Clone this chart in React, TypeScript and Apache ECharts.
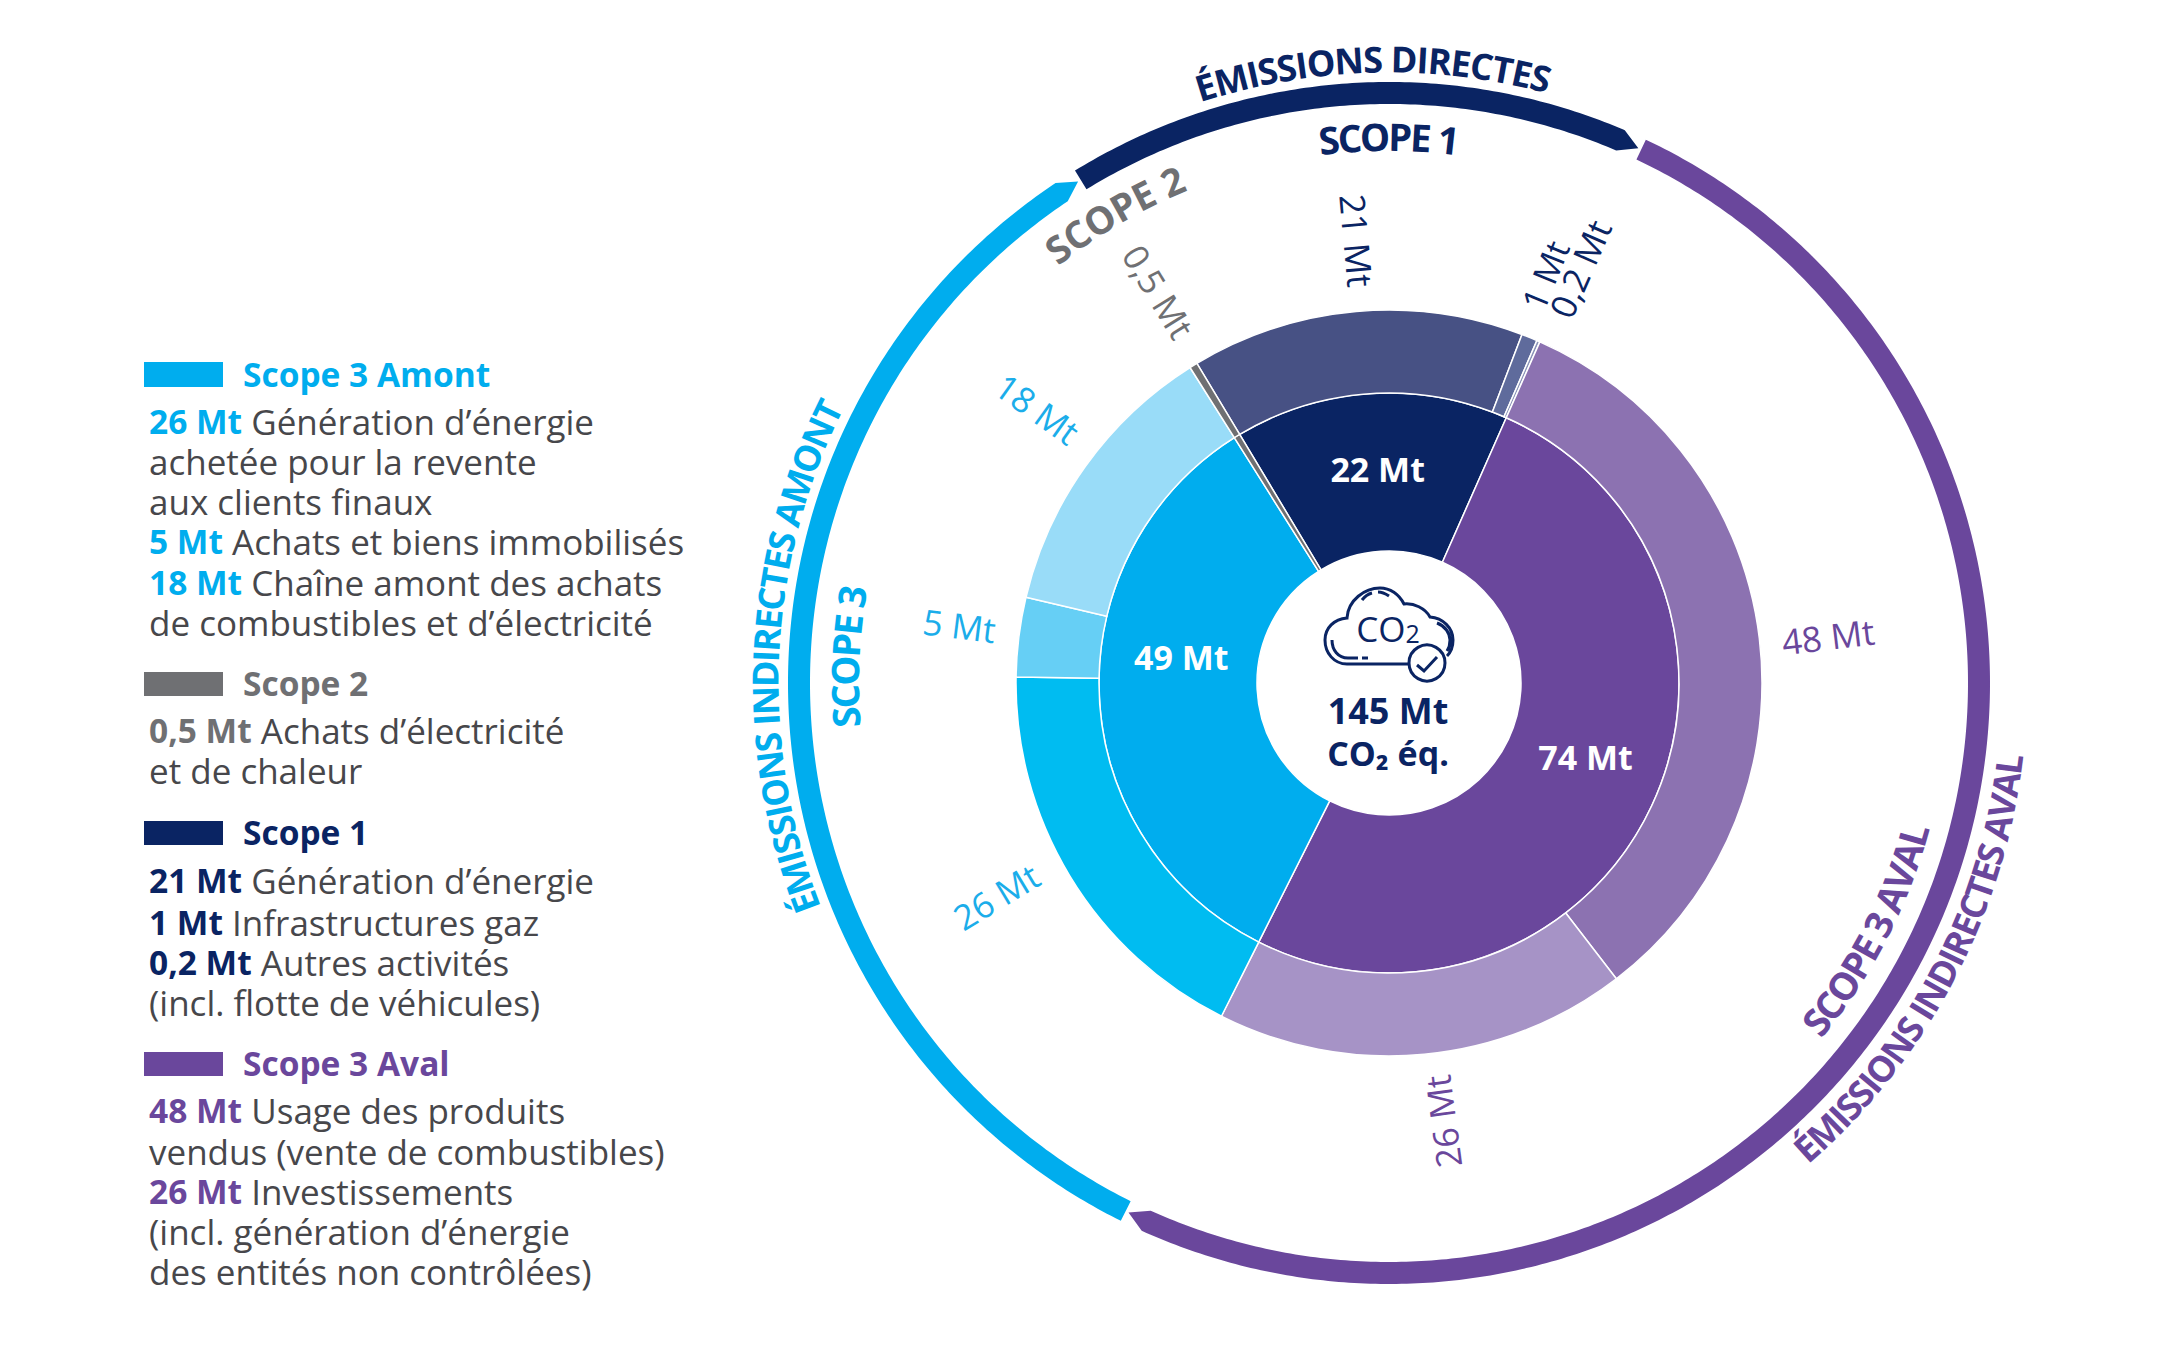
import React, { useEffect, useRef } from "react";
import * as echarts from "echarts";

// Inner ring (Mt)
const innerNames = ["Scope 1", "Scope 3 Aval", "Scope 3 Amont", "Scope 2"];
const innerValues = [22.2, 74, 49, 0.5];
const innerLabels = ["22 Mt", "74 Mt", "49 Mt", ""];

// Outer ring (Mt)
const outerValues = [21, 1, 0.2, 48, 26, 26, 5, 18, 0.5];
const outerLabels = ["21 Mt", "1 Mt", "0,2 Mt", "48 Mt", "26 Mt", "26 Mt", "5 Mt", "18 Mt", "0,5 Mt"];

const legendHeads = ["Scope 3 Amont", "Scope 2", "Scope 1", "Scope 3 Aval"];
const legendAmont = [
  ["26 Mt", "Génération d’énergie"],
  ["", "achetée pour la revente"],
  ["", "aux clients finaux"],
  ["5 Mt", "Achats et biens immobilisés"],
  ["18 Mt", "Chaîne amont des achats"],
  ["", "de combustibles et d’électricité"],
];
const legendScope2 = [
  ["0,5 Mt", "Achats d’électricité"],
  ["", "et de chaleur"],
];
const legendScope1 = [
  ["21 Mt", "Génération d’énergie"],
  ["1 Mt", "Infrastructures gaz"],
  ["0,2 Mt", "Autres activités"],
  ["", "(incl. flotte de véhicules)"],
];
const legendAval = [
  ["48 Mt", "Usage des produits"],
  ["", "vendus (vente de combustibles)"],
  ["26 Mt", "Investissements"],
  ["", "(incl. génération d’énergie"],
  ["", "des entités non contrôlées)"],
];

// Styles
const NAVY = "#0a2463";
const PURPLE = "#6a479c";
const BLUE = "#00adee";
const GRAY = "#6f7073";
const TEXT = "#47474b";
const FONT = "Open Sans";
const CX = 1389;
const CY = 683;
const innerColors = [NAVY, PURPLE, BLUE, GRAY];
const outerColors = ["#475184", "#5f6b9c", "#8a93b8", "#8c72b1", "#a693c6", "#00bcf1", "#66cff5", "#99dcf8", GRAY];
const outerLabelColors = [NAVY, NAVY, NAVY, PURPLE, PURPLE, "#1badea", "#1badea", "#1badea", GRAY];
const outerLabelLength = [20, 24, 26, 26, 120, 40, 22, 12, 14];
const outerLabelSizes = [35, 34, 35, 35, 35, 35, 35, 35, 35];
// Offsets act in each label's own rotated frame: [along the text, across the text]
const outerLabelOffsets = [[-4, -7], [4, -9], [6, 9], [-4, 6], [4.5, 14], [13, -21], [-2, -4], [-14, -19], [-16, -9]];
const innerLabelOffsets = [[2, 0], [3, -17], [6, -36], [0, 0]];

const rad = (d: number) => (d * Math.PI) / 180;

function arcArrow(startDeg: number, endDeg: number, color: string) {
  const rIn = 579;
  const rOut = 601;
  const head = 1.9;
  const pts: number[][] = [];
  const at = (r: number, a: number) => [CX + r * Math.sin(rad(a)), CY - r * Math.cos(rad(a))];
  for (let a = startDeg; a < endDeg - head; a += 0.5) pts.push(at(rOut, a));
  pts.push(at(rOut, endDeg - head));
  pts.push(at((rIn + rOut) / 2, endDeg));
  pts.push(at(rIn, endDeg - head));
  for (let a = endDeg - head - 0.5; a > startDeg; a -= 0.5) pts.push(at(rIn, a));
  pts.push(at(rIn, startDeg));
  return { type: "polygon", shape: { points: pts }, style: { fill: color }, silent: true };
}

const measureCtx = document.createElement("canvas").getContext("2d")!;

function curvedText(
  str: string,
  startDeg: number,
  endDeg: number,
  r: number,
  size: number,
  color: string,
  flip = false
) {
  const font = `bold ${size}px "${FONT}"`;
  measureCtx.font = font;
  const chars = Array.from(str);
  const widths = chars.map((c) => measureCtx.measureText(c).width);
  const total = widths.reduce((s, w) => s + w, 0);
  const len = (Math.abs(endDeg - startDeg) * Math.PI * r) / 180;
  const extra = (len - total) / (chars.length - 1);
  let s = 0;
  const out: any[] = [];
  chars.forEach((c, i) => {
    const mid = s + widths[i] / 2;
    const a = startDeg + (((flip ? -1 : 1) * mid) / r) * (180 / Math.PI);
    s += widths[i] + extra;
    if (c === " ") return;
    out.push({
      type: "text",
      x: CX + r * Math.sin(rad(a)),
      y: CY - r * Math.cos(rad(a)),
      rotation: -rad(flip ? a + 180 : a),
      silent: true,
      style: { text: c, font, fill: color, align: "center", verticalAlign: "middle" },
    });
  });
  return out;
}

function legendBlock(
  head: string,
  color: string,
  barTop: number,
  barH: number,
  headY: number,
  lines: string[][],
  ys: number[]
) {
  const vSize = 33.5;
  const tSize = 35;
  const out: any[] = [
    { type: "rect", shape: { x: 144, y: barTop, width: 79, height: barH }, style: { fill: color }, silent: true },
    {
      type: "text",
      x: 243,
      y: headY,
      silent: true,
      style: { text: head, font: `bold ${vSize}px "${FONT}"`, fill: color, verticalAlign: "middle" },
    },
  ];
  lines.forEach((ln, i) => {
    const text = ln[0] ? `{v|${ln[0]}}{t| ${ln[1]}}` : `{t|${ln[1]}}`;
    out.push({
      type: "text",
      x: 149,
      y: ys[i],
      silent: true,
      style: {
        text,
        verticalAlign: "middle",
        font: `${tSize}px "${FONT}"`,
        rich: {
          v: { fill: color, fontFamily: FONT, fontWeight: "bold", fontSize: vSize },
          t: { fill: TEXT, fontFamily: FONT, fontSize: tSize },
        },
      },
    });
  });
  return out;
}

echarts.graphic.registerShape(
  "co2cloud",
  echarts.graphic.extendPath(
    "M168 104 L107 104 C94 104 85 93 85 80 C85 68 94 59 107 58 C108 40 125 28 140 28 C150 28 159 34 164 44 C174 43 185 48 190 57 C203 58 213 68 213 80 C213 86 211 92 207 96 M92 80 C92 90 98 98 108 98 L118 98 M122 98 L128 98 M122 40 C125 36 128 34 132 33 M138 32 C142 32 146 34 149 36 M197 63 C205 66 210 73 210 80 C210 84 209 88 207 91",
    {}
  )
);

export default function App() {
  const ref = useRef<HTMLDivElement>(null);
  useEffect(() => {
    const chart = echarts.init(ref.current!, undefined, { renderer: "svg" });
    const graphic: any[] = [
      arcArrow(206.5, 328.2, BLUE),
      arcArrow(328.5 - 360, 25, NAVY),
      arcArrow(25.3, 206.2, PURPLE),
      ...curvedText("ÉMISSIONS DIRECTES", -18, 15, 624, 36, NAVY),
      ...curvedText("SCOPE 1", -7.4, 7.4, 547, 38, NAVY),
      ...curvedText("SCOPE 2", -38.4, -22.2, 547, 38, GRAY),
      ...curvedText("ÉMISSIONS INDIRECTES AMONT", 248.5, 296.8, 624, 36, BLUE),
      ...curvedText("SCOPE 3", 265.3, 280.3, 545, 38, BLUE),
      ...curvedText("SCOPE 3 AVAL", 129.5, 105, 545, 38, PURPLE, true),
      ...curvedText("ÉMISSIONS INDIRECTES AVAL", 139, 96.5, 625, 36, PURPLE, true),
      ...legendBlock(legendHeads[0], BLUE, 362, 25, 374, legendAmont, [421, 461, 501, 541, 582, 622]),
      ...legendBlock(legendHeads[1], GRAY, 672, 24, 683, legendScope2, [730, 770]),
      ...legendBlock(legendHeads[2], NAVY, 821, 24, 832, legendScope1, [880, 922, 962, 1002]),
      ...legendBlock(legendHeads[3], PURPLE, 1052, 24, 1063, legendAval, [1110, 1151, 1191, 1231, 1271]),
      {
        type: "co2cloud",
        x: 1240,
        y: 560,
        silent: true,
        style: { fill: "none", stroke: NAVY, lineWidth: 3 },
      },
      {
        type: "circle",
        shape: { cx: 1427, cy: 663, r: 18 },
        silent: true,
        style: { fill: "#fff", stroke: NAVY, lineWidth: 3 },
      },
      {
        type: "polyline",
        shape: { points: [[1417, 665], [1424, 671], [1437, 657]] },
        silent: true,
        style: { fill: "none", stroke: NAVY, lineWidth: 3 },
      },
      {
        type: "text",
        x: 1388,
        y: 628,
        silent: true,
        style: {
          text: "{a|CO}{b|2}",
          align: "center",
          verticalAlign: "middle",
          font: `30px "${FONT}"`,
          rich: {
            a: { fontFamily: FONT, fontSize: 35, fill: NAVY },
            b: { fontFamily: FONT, fontSize: 25, fill: NAVY, padding: [10, 0, 0, 0] },
          },
        },
      },
      {
        type: "text",
        x: 1388,
        y: 710,
        silent: true,
        style: { text: "145 Mt", font: `bold 36px "${FONT}"`, fill: NAVY, align: "center", verticalAlign: "middle" },
      },
      {
        type: "text",
        x: 1388,
        y: 753,
        silent: true,
        style: { text: "CO₂ éq.", font: `bold 34px "${FONT}"`, fill: NAVY, align: "center", verticalAlign: "middle" },
      },
    ];
    chart.setOption({
      animation: false,
      backgroundColor: "#ffffff",
      series: [
        {
          type: "pie",
          silent: true,
          center: [CX, CY],
          radius: [132, 290],
          startAngle: 121,
          clockwise: true,
          avoidLabelOverlap: false,
          itemStyle: { borderColor: "#fff", borderWidth: 1.5 },
          label: {
            position: "inside",
            rotate: 0,
            color: "#fff",
            fontFamily: FONT,
            fontWeight: "bold",
            fontSize: 34,
            formatter: (p: any) => innerLabels[p.dataIndex],
          },
          labelLine: { show: false },
          data: innerValues.map((value, i) => ({
            name: innerNames[i],
            value,
            itemStyle: { color: innerColors[i] },
            label: { offset: innerLabelOffsets[i] },
          })),
        },
        {
          type: "pie",
          silent: true,
          center: [CX, CY],
          radius: [290, 373],
          startAngle: 121,
          clockwise: true,
          avoidLabelOverlap: false,
          minShowLabelAngle: 0,
          labelLayout: { hideOverlap: false },
          itemStyle: { borderColor: "#fff", borderWidth: 1.5 },
          label: {
            position: "outside",
            rotate: "radial",
            fontFamily: FONT,
            distanceToLabelLine: 0,
            formatter: (p: any) => outerLabels[p.dataIndex],
          },
          labelLine: { show: false, length2: 0 },
          data: outerValues.map((value, i) => ({
            name: outerLabels[i],
            value,
            itemStyle: { color: outerColors[i] },
            label: {
              color: outerLabelColors[i],
              fontSize: outerLabelSizes[i],
              offset: outerLabelOffsets[i],
              ...(i === 4 ? { rotate: 97.5 } : {}),
            },
            labelLine: { length: outerLabelLength[i] },
          })),
        },
      ],
      graphic: { elements: graphic },
    });
    return () => chart.dispose();
  }, []);
  return <div ref={ref} style={{ position: "absolute", left: 0, top: 0, width: 2181, height: 1363 }} />;
}
